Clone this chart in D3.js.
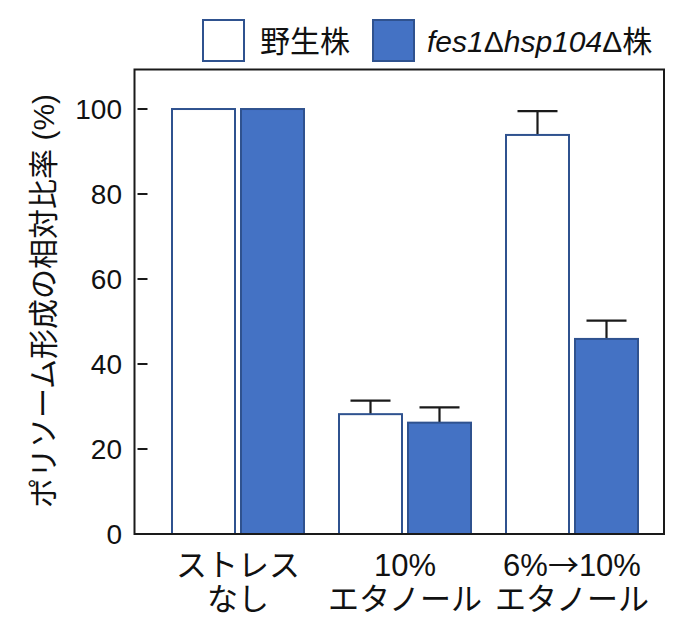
<!DOCTYPE html>
<html><head><meta charset="utf-8">
<script src="https://cdn.jsdelivr.net/npm/d3@7"></script>
<style>body{margin:0;background:#fff}svg{display:block}</style>
</head><body>
<script>
const categories = [["ストレス","なし"],["10%","エタノール"],["6%→10%","エタノール"]];
const seriesNames = ["野生株","fes1Δhsp104Δ株"];
const wildValues = [100, 28.2, 93.9];
const wildErrors = [0, 3.2, 5.6];
const mutantValues = [100, 26.2, 45.9];
const mutantErrors = [0, 3.6, 4.3];
const yTicks = [0, 20, 40, 60, 80, 100];

const W = 700, H = 624;
const font = '"Liberation Sans","Noto Sans CJK JP",sans-serif';
const cjk = '"Noto Sans CJK JP",sans-serif';
const svg = d3.select("body").append("svg").attr("width", W).attr("height", H);

const frame = {l: 134.5, r: 664, t: 69.5, b: 534};
const y = d3.scaleLinear().domain([0, 109.3]).range([frame.b, frame.t]);
const idx = d3.range(categories.length);
const x0 = d3.scaleBand().domain(idx).range([154.5, 655.5]).padding(0);
const x1 = d3.scaleBand().domain([0, 1]).range([-66, 66]).paddingInner(6/69);

const fills = ["#ffffff", "#4472c4"];
const stroke = "#2f528f";
const vals = [wildValues, mutantValues];
const errs = [wildErrors, mutantErrors];

const data = [];
idx.forEach(i => [0,1].forEach(s => data.push({i, s, v: vals[s][i], e: errs[s][i]})));

const cx = d => x0(d.i) + x0.bandwidth()/2 + x1(d.s);

// error bars
const eb = svg.append("g").attr("stroke", "#1a1a1a").attr("stroke-width", 2.2);
data.filter(d => d.e > 0).forEach(d => {
  const mx = cx(d) + x1.bandwidth()/2;
  eb.append("line").attr("x1", mx).attr("x2", mx).attr("y1", y(d.v)).attr("y2", y(d.v + d.e));
  eb.append("line").attr("x1", mx - 20).attr("x2", mx + 20).attr("y1", y(d.v + d.e)).attr("y2", y(d.v + d.e));
});

// bars
svg.append("g").selectAll("rect").data(data).join("rect")
  .attr("x", d => cx(d)).attr("width", x1.bandwidth())
  .attr("y", d => y(d.v)).attr("height", d => y(0) - y(d.v))
  .attr("fill", d => fills[d.s]).attr("stroke", stroke).attr("stroke-width", 2);

// frame
svg.append("rect").attr("x", frame.l).attr("y", frame.t)
  .attr("width", frame.r - frame.l).attr("height", frame.b - frame.t)
  .attr("fill", "none").attr("stroke", "#1a1a1a").attr("stroke-width", 2);

// y ticks
const yt = svg.append("g");
yTicks.forEach(t => {
  if (t > 0) yt.append("line").attr("x1", frame.l + 3).attr("x2", frame.l + 13)
    .attr("y1", y(t)).attr("y2", y(t)).attr("stroke", "#1a1a1a").attr("stroke-width", 2);
  yt.append("text").attr("x", 122).attr("y", y(t)).attr("dy", "0.36em")
    .attr("text-anchor", "end").attr("font-family", font).attr("font-size", 28)
    .attr("fill", "#111").text(t);
});

// x labels (arrow drawn with the CJK font so it is full width)
idx.forEach(i => {
  const t = svg.append("text").attr("text-anchor", "middle").attr("font-family", font)
    .attr("font-size", 31).attr("fill", "#111");
  const c = x0(i) + x0.bandwidth()/2;
  const l1 = t.append("tspan").attr("x", c).attr("y", 576);
  categories[i][0].split(/(→)/).forEach(part => {
    if (!part) return;
    const sp = l1.append("tspan").text(part);
    if (part === "→") sp.attr("font-family", cjk);
  });
  t.append("tspan").attr("x", c).attr("y", 610).text(categories[i][1]);
});

// y title
svg.append("text").attr("transform", "translate(54,301) rotate(-90)")
  .attr("text-anchor", "middle").attr("font-family", font).attr("font-size", 30)
  .attr("fill", "#111").text("ポリソーム形成の相対比率 (%)");

// legend
const lg = svg.append("g");
const legX = [203, 373];
const textX = [260, 427];
[0,1].forEach(s => {
  lg.append("rect").attr("x", legX[s]).attr("y", 20).attr("width", 41).attr("height", 41)
    .attr("fill", fills[s]).attr("stroke", stroke).attr("stroke-width", 2);
});
lg.append("text").attr("x", textX[0]).attr("y", 52).attr("font-family", font)
  .attr("font-size", 30).attr("fill", "#111").text(seriesNames[0]);
const t2 = lg.append("text").attr("x", textX[1]).attr("y", 52).attr("font-family", font)
  .attr("font-size", 30).attr("fill", "#111");
["fes1", "Δ", "hsp104", "Δ", "株"].forEach(p => {
  const sp = t2.append("tspan").text(p);
  if (p !== "Δ" && p !== "株") sp.attr("font-style", "italic");
});
</script>
</body></html>
